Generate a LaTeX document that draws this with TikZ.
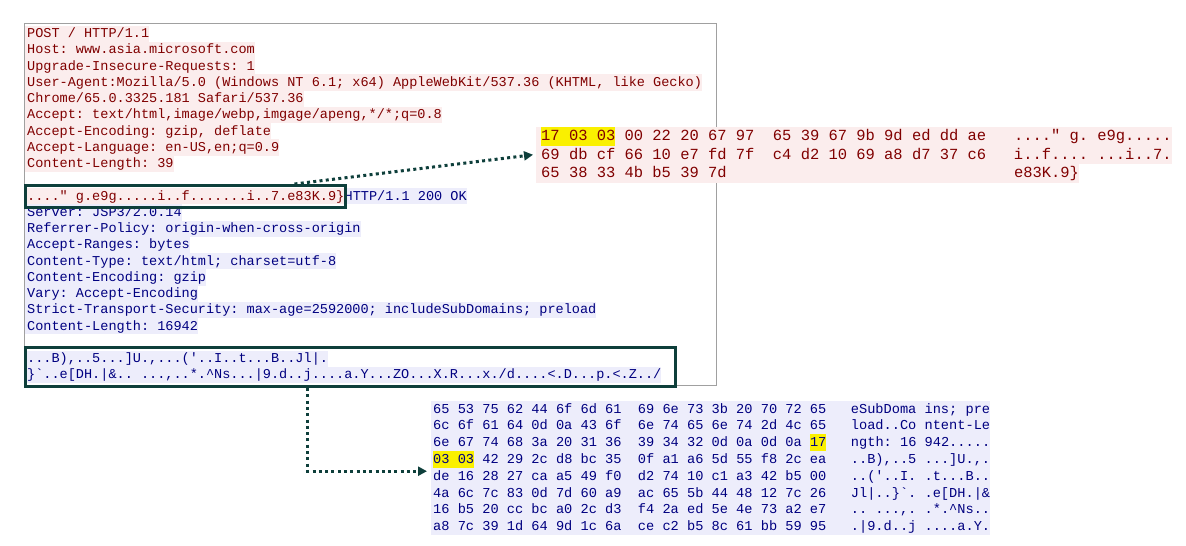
\documentclass[tikz,border=0pt]{standalone}
\usepackage{fontspec}
\setmonofont{Liberation Mono}
\usetikzlibrary{arrows.meta}
\definecolor{cfg}{HTML}{800000}
\definecolor{cbg}{HTML}{FBEDED}
\definecolor{sfg}{HTML}{000080}
\definecolor{sbg}{HTML}{EDEDFB}
\definecolor{hl}{HTML}{FAF000}
\definecolor{boxteal}{HTML}{0E3F3B}
\definecolor{framegray}{HTML}{A0A0A0}
\newcommand\hlbox[3]{{\setlength\fboxsep{0pt}\colorbox{hl}{\rule[-#2]{0pt}{\dimexpr#1+#2\relax}#3}}}
\tikzset{
  lrow/.style={anchor=base west, inner sep=0pt, text height=12pt, text depth=4.25pt,
    font=\ttfamily\fontsize{13.55pt}{16.25pt}\selectfont},
  cli/.style={lrow, fill=cbg, text=cfg},
  srv/.style={lrow, fill=sbg, text=sfg},
  rrow/.style={anchor=base west, inner sep=0pt, text height=13.5pt, text depth=5pt,
    font=\ttfamily\fontsize{15.45pt}{18.5pt}\selectfont, fill=cbg, text=cfg},
  brow/.style={anchor=base west, inner sep=0pt, text height=12.2pt, text depth=4.6pt,
    font=\ttfamily\fontsize{13.65pt}{16.8pt}\selectfont, fill=sbg, text=sfg},
  tealbox/.style={draw=boxteal, line width=3pt, anchor=north west, inner sep=0pt},
  framebox/.style={draw=framegray, line width=1pt, anchor=north west, inner sep=0pt},
  conn/.style={draw=boxteal, line width=3pt, dash pattern=on 3pt off 3.3pt,
    -{Triangle[length=9pt,width=9pt]}}
}
\begin{document}
\begin{tikzpicture}[x=1pt,y=-1pt]
\useasboundingbox (0,0) rectangle (1186,546);
\fill[white] (0,0) rectangle (1186,546);
% outer frame
\node[framebox, minimum width=692.5pt, minimum height=362.5pt] (frame) at (23.5,22.5) {};
% request
\node[cli] (l0) at (25,37.7) {\hspace*{2pt}POST / HTTP/1.1};
\node[cli] (l1) at (25,53.95) {\hspace*{2pt}Host: www.asia.microsoft.com};
\node[cli] (l2) at (25,70.2) {\hspace*{2pt}Upgrade-Insecure-Requests: 1};
\node[cli] (l3) at (25,86.45) {\hspace*{2pt}User-Agent:Mozilla/5.0 (Windows NT 6.1; x64) AppleWebKit/537.36 (KHTML, like Gecko)};
\node[cli] (l4) at (25,102.7) {\hspace*{2pt}Chrome/65.0.3325.181 Safari/537.36};
\node[cli] (l5) at (25,118.95) {\hspace*{2pt}Accept: text/html,image/webp,imgage/apeng,*/*;q=0.8};
\node[cli] (l6) at (25,135.2) {\hspace*{2pt}Accept-Encoding: gzip, deflate};
\node[cli] (l7) at (25,151.45) {\hspace*{2pt}Accept-Language: en-US,en;q=0.9};
\node[cli] (l8) at (25,167.7) {\hspace*{2pt}Content-Length: 39};
% response
\node[cli] (s0a) at (25,200.2) {\hspace*{2pt}...." g.e9g.....i..f.......i..7.e83K.9\}};
\node[srv] (s0b) at (s0a.base east) {HTTP/1.1 200 OK};
\node[srv] (s1) at (25,216.45) {\hspace*{2pt}Server: JSP3/2.0.14};
\node[srv] (s2) at (25,232.7) {\hspace*{2pt}Referrer-Policy: origin-when-cross-origin};
\node[srv] (s3) at (25,248.95) {\hspace*{2pt}Accept-Ranges: bytes};
\node[srv] (s4) at (25,265.2) {\hspace*{2pt}Content-Type: text/html; charset=utf-8};
\node[srv] (s5) at (25,281.45) {\hspace*{2pt}Content-Encoding: gzip};
\node[srv] (s6) at (25,297.7) {\hspace*{2pt}Vary: Accept-Encoding};
\node[srv] (s7) at (25,313.95) {\hspace*{2pt}Strict-Transport-Security: max-age=2592000; includeSubDomains; preload};
\node[srv] (s8) at (25,330.2) {\hspace*{2pt}Content-Length: 16942};
\node[srv] (s9) at (25,362.7) {\hspace*{2pt}...B),..5...]U.,...('..I..t...B..Jl|.};
\node[srv] (s10) at (25,378.95) {\hspace*{2pt}\}\textasciigrave..e[DH.|\&.. ...,..*.\textasciicircum Ns...|9.d..j....a.Y...ZO...X.R...x./d....<.D...p.<.Z../};
% highlight boxes
\node[tealbox, minimum width=320pt, minimum height=22pt] (box1) at (24,184) {};
\node[tealbox, minimum width=650pt, minimum height=39pt] (box2) at (24,346) {};
% right hex dump
\node[rrow] (r1) at (536,140.5) {\hspace*{5pt}\hlbox{13.5pt}{5pt}{17 03 03} 00 22 20 67 97~ 65 39 67 9b 9d ed dd ae~~ ...." g. e9g.....};
\node[rrow] (r2) at (536,159) {\hspace*{5pt}69 db cf 66 10 e7 fd 7f~ c4 d2 10 69 a8 d7 37 c6~~ i..f.... ...i..7.};
\node[rrow] (r3) at (536,177.5) {\hspace*{5pt}65 38 33 4b b5 39 7d\hspace*{18.6em}e83K.9\}};
% bottom hex dump
\node[brow] (b1) at (431,413) {\hspace*{2pt}65 53 75 62 44 6f 6d 61~ 69 6e 73 3b 20 70 72 65~~ eSubDoma ins; pre};
\node[brow] (b2) at (431,429.8) {\hspace*{2pt}6c 6f 61 64 0d 0a 43 6f~ 6e 74 65 6e 74 2d 4c 65~~ load..Co ntent-Le};
\node[brow] (b3) at (431,446.6) {\hspace*{2pt}6e 67 74 68 3a 20 31 36~ 39 34 32 0d 0a 0d 0a \hlbox{12.2pt}{4.6pt}{17}~~ ngth: 16 942.....};
\node[brow] (b4) at (431,463.4) {\hspace*{2pt}\hlbox{12.2pt}{4.6pt}{03 03} 42 29 2c d8 bc 35~ 0f a1 a6 5d 55 f8 2c ea~~ ..B),..5 ...]U.,.};
\node[brow] (b5) at (431,480.2) {\hspace*{2pt}de 16 28 27 ca a5 49 f0~ d2 74 10 c1 a3 42 b5 00~~ ..('..I. .t...B..};
\node[brow] (b6) at (431,497) {\hspace*{2pt}4a 6c 7c 83 0d 7d 60 a9~ ac 65 5b 44 48 12 7c 26~~ Jl|..\}\textasciigrave. .e[DH.|\&};
\node[brow] (b7) at (431,513.8) {\hspace*{2pt}16 b5 20 cc bc a0 2c d3~ f4 2a ed 5e 4e 73 a2 e7~~ .. ...,. .*.\textasciicircum Ns..};
\node[brow] (b8) at (431,530.6) {\hspace*{2pt}a8 7c 39 1d 64 9d 1c 6a~ ce c2 b5 8c 61 bb 59 95~~ .|9.d..j ....a.Y.};
% connectors
\draw[conn] ([xshift=109pt]box1.north) -- ([xshift=-3pt]r2.west);
\draw[conn] ([xshift=-43pt]box2.south) |- ([xshift=-4pt,yshift=-3pt]b4.south west);
\end{tikzpicture}
\end{document}
